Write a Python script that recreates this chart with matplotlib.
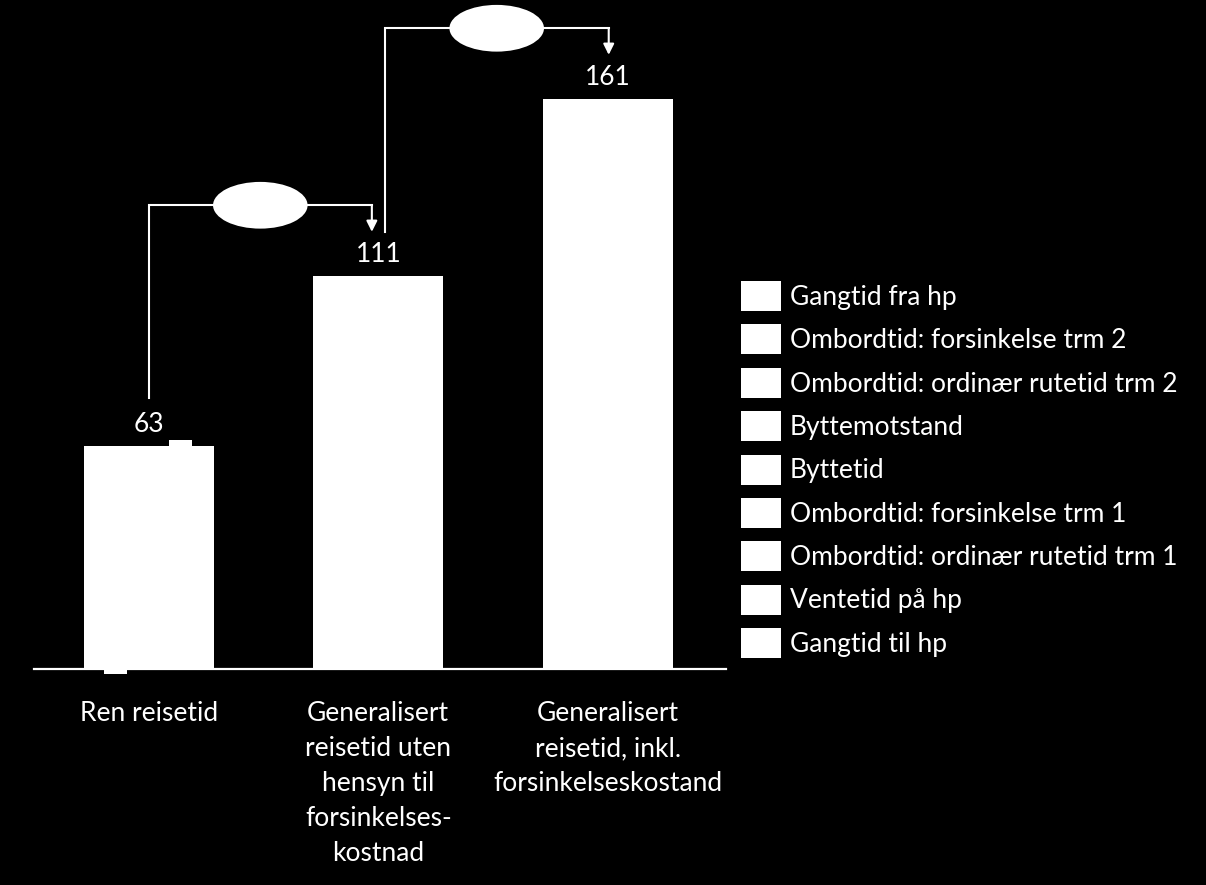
import matplotlib
matplotlib.use("Agg")
import matplotlib.pyplot as plt
from matplotlib.patches import Ellipse, Patch
import numpy as np

plt.rcParams['font.family'] = ['Lato', 'DejaVu Sans']

categories = ["Ren reisetid",
              "Generalisert\nreisetid uten\nhensyn til\nforsinkelses-\nkostnad",
              "Generalisert\nreisetid, inkl.\nforsinkelseskostand"]
# stacking order: bottom -> top
series_names = ["Gangtid til hp", "Ventetid på hp", "Ombordtid: ordinær rutetid trm 1",
                "Ombordtid: forsinkelse trm 1", "Byttetid", "Byttemotstand",
                "Ombordtid: ordinær rutetid trm 2", "Ombordtid: forsinkelse trm 2",
                "Gangtid fra hp"]
gangtid_til = [5, 10, 10]
ventetid = [5, 10, 10]
ordinaer_trm1 = [20, 20, 20]
forsinkelse_trm1 = [0, 0, 25]
byttetid = [5, 10, 10]
byttemotstand = [0, 25, 25]
ordinaer_trm2 = [20, 20, 20]
forsinkelse_trm2 = [0, 0, 25]
gangtid_fra = [8, 16, 16]
totals = [63, 111, 161]
small_top = [1.7]
small_bottom = [-1.4]

series = [gangtid_til, ventetid, ordinaer_trm1, forsinkelse_trm1, byttetid,
          byttemotstand, ordinaer_trm2, forsinkelse_trm2, gangtid_fra]

W, H = 1206, 885
FS = 19
fig = plt.figure(figsize=(W/100, H/100), dpi=100, facecolor='black')
ax = fig.add_axes([34/W, 1-669/H, (726-34)/W, 669/H])
ax.set_facecolor('black')

x = np.arange(len(categories))
bw = 0.565
bottom = np.zeros(len(categories))
for name, vals in zip(series_names, series):
    ax.bar(x, vals, bw, bottom=bottom, color='white', linewidth=0, label=name)
    bottom += np.array(vals)

# small artifacts on first bar
ax.bar([0.137], small_top, 0.1, bottom=[totals[0]], color='white', linewidth=0)
ax.bar([-0.146], small_bottom, 0.1, color='white', linewidth=0, clip_on=False)

ax.set_xlim(-0.5, 2.515)
ax.set_ylim(0, 669/3.54)
for s in ['top', 'left', 'right']:
    ax.spines[s].set_visible(False)
ax.spines['bottom'].set_color('white')
ax.spines['bottom'].set_linewidth(1.6)
ax.set_yticks([])
ax.set_xticks(x)
ax.set_xticklabels(categories, color='white', fontsize=FS, linespacing=1.5)
ax.tick_params(axis='x', length=0, pad=23)
for lbl in ax.get_xticklabels():
    lbl.set_verticalalignment('top')

for xi, t in zip(x, totals):
    ax.text(xi, t + 6.0, str(t), color='white', fontsize=FS, ha='center', va='center')

lw = 1.5
# connectors
conns = [(0, 1), (1, 2)]
for a, b in conns:
    x0 = a + (0.0 if a == 0 else 0.028)
    x1 = b - (0.028 if b == 1 else -0.004)
    y_start = totals[a] + (13.5 if a == 0 else 12.5)
    level = totals[b] + 20
    tip = totals[b] + 12.5
    ax.plot([x0, x0, x1], [y_start, level, level], color='white', lw=lw, clip_on=False,
            solid_joinstyle='miter')
    ax.annotate('', xy=(x1, tip), xytext=(x1, level),
                arrowprops=dict(arrowstyle='-|>', color='white', lw=lw,
                                mutation_scale=16, shrinkA=0, shrinkB=0))
    ax.add_patch(Ellipse(((x0 + x1) / 2, level), 0.412, 13.2, facecolor='white',
                         edgecolor='none', clip_on=False, zorder=5))

handles = [Patch(facecolor='white', edgecolor='none') for _ in series_names]
leg = fig.legend(handles[::-1], series_names[::-1], loc='upper left',
                 bbox_to_anchor=(741/W, 1-281/H), frameon=False, fontsize=FS,
                 handlelength=1.516, handleheight=1.372, labelspacing=0.507,
                 handletextpad=0.34, borderpad=0, borderaxespad=0)
for t in leg.get_texts():
    t.set_color('white')

fig.savefig('out.png', dpi=100, facecolor='black')
